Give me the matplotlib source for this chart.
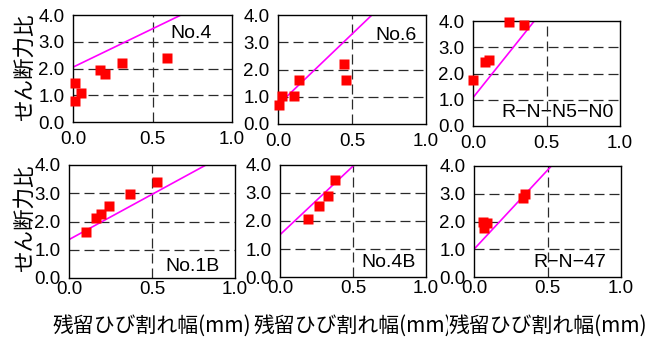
import numpy as np
import matplotlib
matplotlib.use('Agg')
import matplotlib.pyplot as plt

plt.rcParams['font.family'] = ['Liberation Sans', 'Noto Sans CJK JP', 'DejaVu Sans']

# パネル名
names = ['No.4', 'No.6', 'R−N−N5−N0', 'No.1B', 'No.4B', 'R−N−47']

# 残留ひび割れ幅 (mm)
x4 = [0.01, 0.01, 0.05, 0.17, 0.20, 0.31, 0.59]
x6 = [0.01, 0.03, 0.105, 0.14, 0.445, 0.46]
xn5 = [0.0, 0.08, 0.11, 0.245, 0.35]
x1b = [0.10, 0.16, 0.19, 0.24, 0.37, 0.53]
x4b = [0.19, 0.27, 0.33, 0.38]
x47 = [0.06, 0.086, 0.07, 0.33, 0.345]

# せん断力比
y4 = [1.44, 0.79, 1.10, 1.94, 1.79, 2.19, 2.38]
y6 = [0.70, 1.03, 1.03, 1.60, 2.19, 1.61]
yn5 = [1.76, 2.45, 2.51, 3.96, 3.85]
y1b = [1.64, 2.14, 2.28, 2.56, 2.99, 3.41]
y4b = [2.08, 2.55, 2.90, 3.46]
y47 = [1.99, 1.93, 1.75, 2.83, 2.99]

# 回帰直線 (切片, 傾き)
intercepts = [2.05, 0.70, 1.08, 1.36, 1.51, 1.0]
slopes = [2.87, 5.2, 7.0, 3.2, 4.9, 5.7]

xs = [x4, x6, xn5, x1b, x4b, x47]
ys = [y4, y6, yn5, y1b, y4b, y47]

# ラベル位置 (axes座標)
label_pos = [(0.87, 0.83), (0.94, 0.81), (0.96, 0.13),
             (0.91, 0.10), (0.93, 0.13), (0.90, 0.135)]

W, H = 663, 338
fig = plt.figure(figsize=(W / 100, H / 100), dpi=100)

# 軸の位置 (ピクセル: left, right, top, bottom)
boxes = [(73, 232, 15, 122), (278, 426, 15, 124), (473, 620, 21, 126),
         (69, 235, 165, 278), (280, 426, 165, 277), (474, 621, 166, 277)]

for i, (l, r, t, b) in enumerate(boxes):
    ax = fig.add_axes([l / W, 1 - b / H, (r - l) / W, (b - t) / H])
    ax.set_xlim(0, 1.0)
    ax.set_ylim(0, 4.0)
    ax.set_xticks([0, 0.5, 1.0])
    ax.set_yticks([0, 1, 2, 3, 4])
    ax.set_xticklabels(['0.0', '0.5', '1.0'])
    ax.set_yticklabels(['0.0', '1.0', '2.0', '3.0', '4.0'])
    xpad = 6.5 if i < 3 else 2.4
    ax.tick_params(axis='x', length=0, pad=xpad, labelsize=13.5)
    ax.tick_params(axis='y', length=0, pad=6, labelsize=13.5)
    for sp in ax.spines.values():
        sp.set_linewidth(1.0)
        sp.set_color('black')

    # 破線グリッド
    for yv in [1, 2, 3]:
        ax.axhline(yv, color='#2a2a2a', lw=0.9, ls=(0, (8, 4)), zorder=1)
    ax.axvline(0.5, color='#2a2a2a', lw=0.9, ls=(0, (8, 4)), zorder=1)

    xl = np.linspace(0, 1, 50)
    ax.plot(xl, intercepts[i] + slopes[i] * xl, color='#ff00ff', lw=1.2, zorder=2)
    ax.plot(xs[i], ys[i], 's', color='#ff0000', markersize=7.5, mec='none',
            zorder=3, clip_on=False)

    lx, ly = label_pos[i]
    ax.text(lx, ly, names[i], transform=ax.transAxes, ha='right', va='center',
            fontsize=14, zorder=0.5)

# 縦軸ラベル
for yc in [67.5, 218]:
    fig.text(25 / W, 1 - yc / H, 'せん断力比', rotation=90, ha='center',
             va='center', fontsize=15.5, family=['Noto Sans CJK JP'])

# 横軸ラベル
for l, r, t, b in boxes[3:]:
    fig.text((l + r) / 2 / W, 1 - 326 / H, '残留ひび割れ幅(mm)', ha='center',
             va='center', fontsize=15, family=['Noto Sans CJK JP'],
             bbox=dict(facecolor='white', edgecolor='none', pad=0))

fig.savefig('out.png', dpi=100)
